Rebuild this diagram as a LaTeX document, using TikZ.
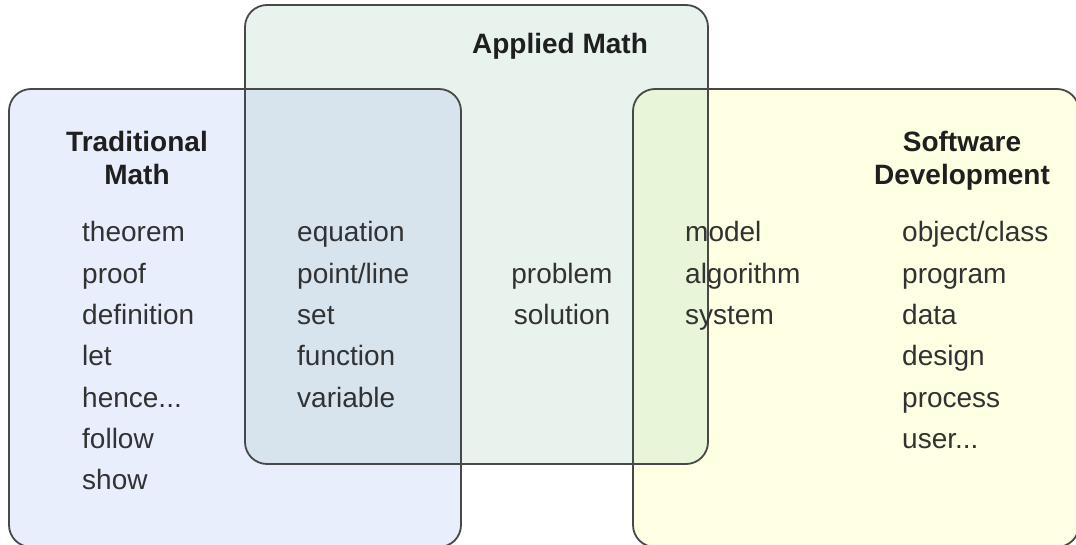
\documentclass[tikz,border=0pt]{standalone}
\usepackage{fontspec}
\setmainfont{Liberation Sans}
\usepackage{tikz}
\usetikzlibrary{positioning}
\definecolor{tradcolor}{RGB}{232,238,252}
\definecolor{appliedcolor}{RGB}{233,243,238}
\definecolor{softcolor}{RGB}{255,255,228}
\definecolor{tradappcolor}{RGB}{215,228,238}
\definecolor{appsoftcolor}{RGB}{233,245,216}
\definecolor{edgecolor}{RGB}{72,72,72}
\definecolor{wordcolor}{RGB}{50,50,50}

\tikzset{
    setbox/.style={draw=edgecolor, line width=1.8pt, rounded corners=22pt},
    title/.style={font=\fontsize{28}{31.5}\selectfont\bfseries, text=black!88, inner sep=0pt, anchor=base},
    word/.style={font=\fontsize{28}{31.5}\selectfont, text=wordcolor, inner sep=0pt, anchor=base west}
}

\begin{document}
\begin{tikzpicture}[x=1pt, y=-1pt]
    \useasboundingbox (0,0) rectangle (1076,545);
    \clip (0,0) rectangle (1076,545);

    % Corners of the three sets
    \coordinate (trad-nw) at (9,89);     \coordinate (trad-se) at (461,547);
    \coordinate (app-nw) at (245,5);     \coordinate (app-se) at (708,464);
    \coordinate (soft-nw) at (633,89);   \coordinate (soft-se) at (1079,547);

    % Fills
    \fill[tradcolor, rounded corners=22pt] (trad-nw) rectangle (trad-se);
    \fill[softcolor, rounded corners=22pt] (soft-nw) rectangle (soft-se);
    \fill[appliedcolor, rounded corners=22pt] (app-nw) rectangle (app-se);

    % Overlaps
    \begin{scope}
        \clip[rounded corners=22pt] (app-nw) rectangle (app-se);
        \fill[tradappcolor, rounded corners=22pt] (trad-nw) rectangle (trad-se);
        \fill[appsoftcolor, rounded corners=22pt] (soft-nw) rectangle (soft-se);
    \end{scope}

    % Outlines
    \draw[setbox] (trad-nw) rectangle (trad-se);
    \draw[setbox] (soft-nw) rectangle (soft-se);
    \draw[setbox] (app-nw) rectangle (app-se);

    % Titles
    \node[title] (apptitle) at (560,54) {Applied Math};
    \node[title] (tradtitle) at (137,152) {Traditional};
    \node[title] (tradtitle2) at (137,185) {Math};
    \node[title] (softtitle) at (962,152) {Software};
    \node[title] (softtitle2) at (962,185) {Development};

    % Word lists (dots split with {} so \foreach does not read them as a range)
    \foreach \w [count=\i from 0] in {theorem, proof, definition, let, hence.{}.{}., follow, show}
        \node[word] (trad-\i) at (82,242+41.3*\i) {\w};
    \foreach \w [count=\i from 0] in {equation, point/line, set, function, variable}
        \node[word] (tradapp-\i) at (297,242+41.3*\i) {\w};
    \foreach \w [count=\i from 1] in {problem, solution}
        \node[word, anchor=base] (app-\i) at (562,242+41.3*\i) {\w};
    \foreach \w [count=\i from 0] in {model, algorithm, system}
        \node[word] (appsoft-\i) at (685,242+41.3*\i) {\w};
    \foreach \w [count=\i from 0] in {object/class, program, data, design, process, user.{}.{}.}
        \node[word] (soft-\i) at (902,242+41.3*\i) {\w};
\end{tikzpicture}
\end{document}
